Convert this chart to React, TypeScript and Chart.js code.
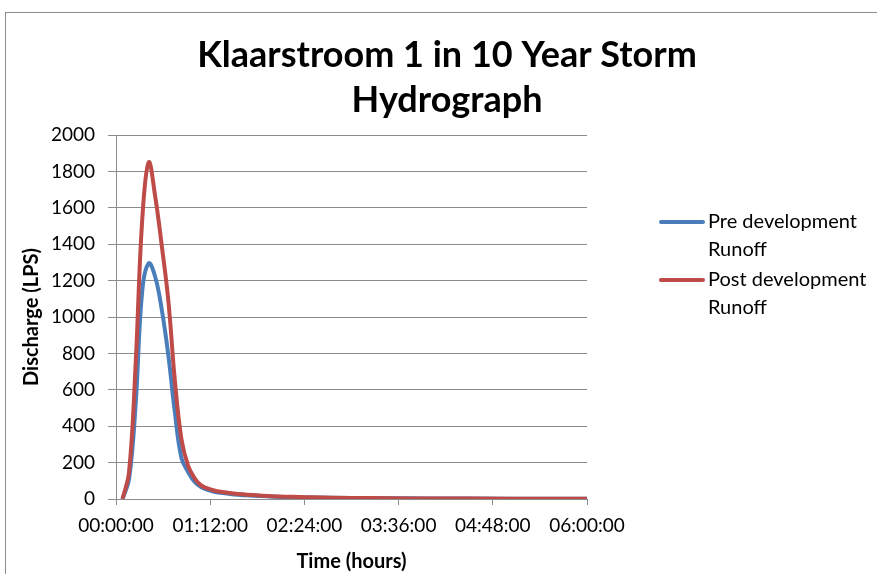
import React, { useEffect, useRef } from "react";
import { Chart, registerables } from "chart.js";

Chart.register(...registerables);

// Time in minutes from start of storm
const timeMinutes = [5, 10, 15, 20, 25, 30, 35, 40, 45, 50, 55, 60, 65, 70, 75, 80, 90, 100, 110, 120, 135, 150, 180, 210, 240, 300, 360];
// Discharge (LPS)
const preRunoff = [0, 110, 520, 1140, 1295, 1220, 1040, 790, 476, 226, 150, 95, 65, 50, 40, 34, 25, 20, 16, 13, 10, 8, 5, 4, 3, 2, 1];
const postRunoff = [0, 150, 740, 1530, 1850, 1660, 1390, 1090, 650, 330, 185, 115, 75, 58, 47, 40, 30, 24, 19, 15, 12, 9, 6, 4, 3, 2, 1];

const seriesLabels = [["Pre development", "Runoff"], ["Post development", "Runoff"]];
const seriesColors = ["#4A7EBB", "#BE4B48"];
const titleLines = ["Klaarstroom 1 in 10 Year Storm", "Hydrograph"];
const xAxisTitle = "Time (hours)";
const yAxisTitle = "Discharge (LPS)";
const xMin = 0;
const xMax = 360;
const xStep = 72;
const yMin = 0;
const yMax = 2000;
const yStep = 200;

const FONT = "Lato, 'Open Sans', sans-serif";

function fmtTime(m: number): string {
  const totalSec = Math.round(m * 60);
  const h = Math.floor(totalSec / 3600);
  const mm = Math.floor((totalSec % 3600) / 60);
  const ss = totalSec % 60;
  const p = (n: number) => String(n).padStart(2, "0");
  return `${p(h)}:${p(mm)}:${p(ss)}`;
}

const decorPlugin = {
  id: "decor",
  afterDraw(chart: any) {
    const ctx = chart.ctx as CanvasRenderingContext2D;
    ctx.save();
    // outer chart border
    ctx.strokeStyle = "#8c8c8c";
    ctx.lineWidth = 1;
    ctx.strokeRect(5.5, 12.5, 880, 600);
    // title
    ctx.fillStyle = "#000";
    ctx.textAlign = "center";
    ctx.textBaseline = "middle";
    ctx.font = `bold 36px ${FONT}`;
    ctx.fillText(titleLines[0], 447, 55);
    ctx.fillText(titleLines[1], 447, 100);
    // legend
    const ys = [222, 280];
    chart.data.datasets.forEach((ds: any, i: number) => {
      const y = ys[i];
      ctx.strokeStyle = ds.borderColor;
      ctx.lineWidth = 4;
      ctx.lineCap = "round";
      ctx.beginPath();
      ctx.moveTo(661, y);
      ctx.lineTo(703, y);
      ctx.stroke();
      ctx.fillStyle = "#000";
      ctx.textAlign = "left";
      ctx.textBaseline = "middle";
      ctx.font = `20px ${FONT}`;
      const lines: string[] = seriesLabels[i];
      lines.forEach((t, j) => ctx.fillText(t, 708, y + j * 27.5));
    });
    ctx.restore();
  },
};

export default function App() {
  const ref = useRef<HTMLCanvasElement | null>(null);
  useEffect(() => {
    document.body.style.margin = "0";
    const canvas = ref.current!;
    const mk = (vals: number[]) => timeMinutes.map((t, i) => ({ x: t, y: vals[i] }));
    const chart = new Chart(canvas, {
      type: "line",
      data: {
        datasets: [
          {
            label: seriesLabels[0].join(" "),
            data: mk(preRunoff),
            borderColor: seriesColors[0],
            backgroundColor: seriesColors[0],
            borderWidth: 4,
            pointRadius: 0,
            tension: 0.4,
            fill: false,
            order: 2,
          },
          {
            label: seriesLabels[1].join(" "),
            data: mk(postRunoff),
            borderColor: seriesColors[1],
            backgroundColor: seriesColors[1],
            borderWidth: 4,
            pointRadius: 0,
            tension: 0.4,
            fill: false,
            order: 1,
          },
        ],
      },
      options: {
        animation: false,
        responsive: false,
        maintainAspectRatio: false,
        devicePixelRatio: 1,
        layout: { padding: { left: 0, top: 135, right: 290, bottom: 0 } },
        plugins: { legend: { display: false }, title: { display: false }, tooltip: { enabled: false } },
        scales: {
          x: {
            type: "linear",
            min: xMin,
            max: xMax,
            afterFit: (s: any) => { s.height = 75; },
            afterBuildTicks: (s: any) => {
              const t = [];
              for (let v = xMin; v <= xMax; v += xStep) t.push({ value: v });
              s.ticks = t;
            },
            ticks: {
              callback: (v: any) => fmtTime(Number(v)),
              color: "#000",
              font: { family: FONT, size: 19 },
              padding: 9,
              maxRotation: 0,
              autoSkip: false,
            },
            grid: { drawOnChartArea: false, drawTicks: true, tickLength: 6, color: "#8c8c8c" },
            border: { color: "#8c8c8c" },
            title: {
              display: true,
              text: xAxisTitle,
              color: "#000",
              font: { family: FONT, size: 20, weight: "bold" },
              padding: { top: 0, bottom: 0 },
            },
          },
          y: {
            min: yMin,
            max: yMax,
            afterFit: (s: any) => { s.width = 116; },
            ticks: {
              stepSize: yStep,
              callback: (v: any) => String(v),
              color: "#000",
              font: { family: FONT, size: 19 },
              padding: 13,
            },
            grid: { drawTicks: true, tickLength: 8, color: "#8c8c8c" },
            border: { color: "#8c8c8c" },
            title: {
              display: true,
              text: yAxisTitle,
              color: "#000",
              font: { family: FONT, size: 20, weight: "bold" },
              padding: { top: 20, bottom: 0 },
            },
          },
        },
      },
      plugins: [decorPlugin],
    });
    return () => chart.destroy();
  }, []);
  return (
    <div style={{ position: "absolute", left: 0, top: 0, width: 877, height: 574, background: "#fff" }}>
      <canvas ref={ref} width={877} height={574} style={{ width: 877, height: 574, display: "block" }} />
    </div>
  );
}
